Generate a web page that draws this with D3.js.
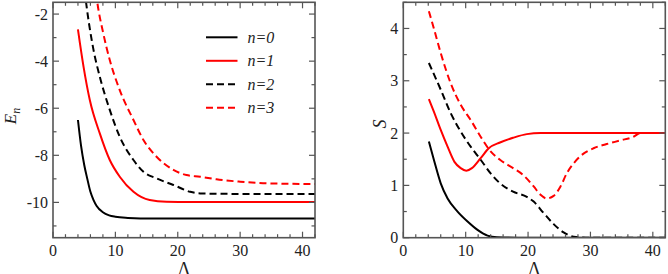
<!DOCTYPE html>
<html><head><meta charset="utf-8">
<script src="https://cdn.jsdelivr.net/npm/d3@7"></script>
<style>body{margin:0;background:#fff}svg{display:block}</style>
</head><body>
<svg id="c" width="668" height="274"></svg>
<script>
// Left panel: E_n vs Lambda
const lamE0 = [4,4.5,5,5.5,6,6.5,7,8,9,10,12,14,20,30,42];
const E0    = [-6.5,-7.6,-8.4,-9.0,-9.55,-9.9,-10.15,-10.42,-10.55,-10.61,-10.66,-10.68,-10.68,-10.68,-10.68];
const lamE1 = [4,4.9,5.9,7.5,9.1,10.7,12.9,15.5,18.2,22,30,42];
const E1    = [-2.65,-4.24,-5.65,-7.07,-8.2,-8.91,-9.55,-9.9,-9.97,-9.98,-9.98,-9.98];
const lamE2 = [4.5,5.3,6.5,7.5,9.1,10.7,12.9,14.5,16.6,19.3,22,23.6,30,42];
const E2    = [0.4,-1.5,-3.53,-4.66,-6.07,-7.21,-8.2,-8.7,-8.98,-9.26,-9.55,-9.62,-9.64,-9.64];
const lamE3 = [6.3,7.1,8.06,9.1,10.7,12.9,14.5,16.6,19.3,21.4,23.6,26.2,30,34.3,42];
const E3    = [0.3,-1.5,-2.82,-3.95,-5.23,-6.5,-7.35,-8.06,-8.62,-8.84,-8.91,-9.02,-9.12,-9.19,-9.22];
// Right panel: S vs Lambda
const lamS0 = [4.1,4.9,6.0,7.1,8.7,10.3,11.9,13.5,15,20,30,42];
const S0    = [1.84,1.49,1.04,0.75,0.5,0.31,0.15,0.04,0.01,0,0,0];
const lamS1 = [4.1,4.9,6.0,7.1,8.2,9.2,10.1,11,12.4,13.7,15.5,17.6,19.8,22,30,42];
const S1    = [2.65,2.41,2.06,1.74,1.45,1.33,1.28,1.33,1.52,1.71,1.82,1.91,1.98,2.0,2.0,2.0];
const lamS2 = [4.1,6,7.6,9.2,10.8,12.4,14,15.5,17.6,19.8,20.9,22.5,24.1,25.7,27.3,30,42];
const S2    = [3.34,2.83,2.38,2.03,1.74,1.49,1.23,1.04,0.88,0.78,0.69,0.47,0.26,0.1,0.02,0,0];
const lamS3 = [4.1,4.9,6,7.6,9.2,10.8,12.4,14,15.5,17.6,19.2,20.9,22,23,24.1,25.2,26.2,27.3,28.4,30.5,32.6,34.8,36.9,38,42];
const S3    = [4.33,4.0,3.53,2.95,2.54,2.25,1.93,1.65,1.49,1.33,1.2,0.98,0.82,0.75,0.8,0.98,1.23,1.42,1.56,1.71,1.79,1.86,1.93,2.0,2.0];
const legendLabels = ["n=0","n=1","n=2","n=3"];
const xTicks = [0,10,20,30,40];
const eTicks = [-10,-8,-6,-4,-2];
const sTicks = [0,1,2,3,4];

const colors = ["#000","#f00","#000","#f00"];
const dashes = [null,null,"7,4","7,4"];
const svg = d3.select("#c");
const yTop = 2.3, yBot = 237.7;
const FONT = "'Liberation Serif', 'Times New Roman', Times, Tinos, 'DejaVu Serif', 'Noto Serif', serif";

function panel(id, x0, x1, ydom, yMajor, yMinorStep, yTickFmt, series) {
  const x = d3.scaleLinear().domain([0,42]).range([x0,x1]);
  const y = d3.scaleLinear().domain(ydom).range([yBot,yTop]);
  const g = svg.append("g");
  g.append("clipPath").attr("id",id).append("rect").attr("x",x0).attr("y",yTop).attr("width",x1-x0).attr("height",yBot-yTop);
  const line = d3.line().x(d=>x(d[0])).y(d=>y(d[1])).curve(d3.curveMonotoneX);
  series.forEach((s,i)=>{
    g.append("path").attr("clip-path",`url(#${id})`).datum(s[0].map((v,j)=>[v,s[1][j]]))
      .attr("d",line).attr("fill","none").attr("stroke",colors[i]).attr("stroke-width",2)
      .attr("stroke-dasharray",dashes[i]);
  });
  g.append("rect").attr("x",x0).attr("y",yTop).attr("width",x1-x0).attr("height",yBot-yTop)
    .attr("fill","none").attr("stroke","#555").attr("stroke-width",1.6);
  d3.range(0,42.01,2).forEach(v=>{
    const L = (v%10===0)?6:3.5;
    g.append("line").attr("x1",x(v)).attr("x2",x(v)).attr("y1",yBot).attr("y2",yBot-L).attr("stroke","#555").attr("stroke-width",1.2);
    g.append("line").attr("x1",x(v)).attr("x2",x(v)).attr("y1",yTop).attr("y2",yTop+L).attr("stroke","#555").attr("stroke-width",1.2);
  });
  xTicks.forEach(v=>{
    g.append("text").attr("x",x(v)).attr("y",256).attr("text-anchor","middle").style("font-family",FONT).attr("font-size",16).attr("fill","#222").text(v);
  });
  d3.range(Math.ceil(ydom[0]/yMinorStep)*yMinorStep, ydom[1]+1e-6, yMinorStep).forEach(v=>{
    const isMaj = yMajor.some(t=>Math.abs(t-v)<1e-6);
    const L = isMaj?6:3.5;
    g.append("line").attr("x1",x0).attr("x2",x0+L).attr("y1",y(v)).attr("y2",y(v)).attr("stroke","#555").attr("stroke-width",1.2);
    g.append("line").attr("x1",x1).attr("x2",x1-L).attr("y1",y(v)).attr("y2",y(v)).attr("stroke","#555").attr("stroke-width",1.2);
  });
  yMajor.forEach(v=>{
    g.append("text").attr("x",x0-5).attr("y",y(v)).attr("dy","0.35em").attr("text-anchor","end").style("font-family",FONT).attr("font-size",16).attr("fill","#222").text(yTickFmt(v));
  });
  g.append("text").attr("x",(x0+x1)/2).attr("y",274.5).attr("text-anchor","middle").style("font-family",FONT).attr("font-size",18).attr("fill","#222").text("Λ");
  return {x,y,g};
}

panel("cl",53,315,[-11.5,-1.5],eTicks,1,v=>String(v),[[lamE0,E0],[lamE1,E1],[lamE2,E2],[lamE3,E3]]);
panel("cr",403.3,665.3,[0,4.5],sTicks,0.5,v=>String(v),[[lamS0,S0],[lamS1,S1],[lamS2,S2],[lamS3,S3]]);

const el = svg.append("text").attr("transform","translate(16,116) rotate(-90)").attr("text-anchor","middle")
  .style("font-family",FONT).attr("font-size",17).attr("font-style","italic").attr("fill","#222");
el.append("tspan").text("E");
el.append("tspan").attr("font-size",12).attr("dy",4).text("n");
svg.append("text").attr("transform","translate(386,124) rotate(-90)").attr("text-anchor","middle")
  .style("font-family",FONT).attr("font-size",18).attr("font-style","italic").attr("fill","#222").text("S");

const lg = svg.append("g");
legendLabels.forEach((t,i)=>{
  const yy = 37.3 + i*23.5;
  lg.append("line").attr("x1",206).attr("x2",237.5).attr("y1",yy).attr("y2",yy)
    .attr("stroke",colors[i]).attr("stroke-width",2).attr("stroke-dasharray",dashes[i]);
  lg.append("text").attr("x",247.5).attr("y",yy).attr("dy","0.35em").style("font-family",FONT).attr("font-size",16).attr("font-style","italic").attr("fill","#222").text(t);
});
</script>
</body></html>
